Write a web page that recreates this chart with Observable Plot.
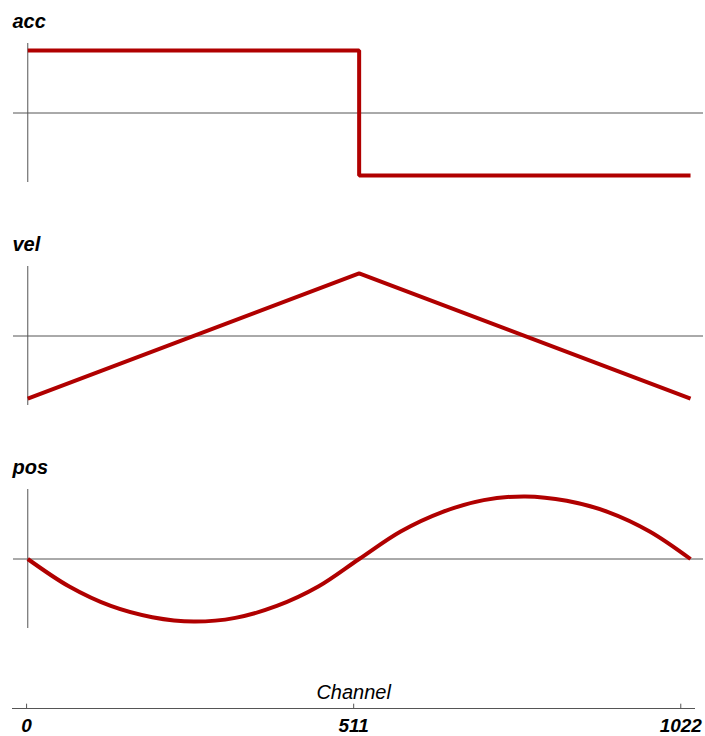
<!DOCTYPE html>
<html>
<head>
<meta charset="utf-8">
<script src="https://cdn.jsdelivr.net/npm/d3@7"></script>
<script src="https://cdn.jsdelivr.net/npm/@observablehq/plot@0.6"></script>
<style>
  html, body { margin: 0; padding: 0; background: #fff; }
  #chart svg { display: block; }
</style>
</head>
<body>
<div id="chart"></div>
<script>
// ---- data ----
const panels = ["acc", "vel", "pos"];
const xTicks = [0, 511, 1022];
const xTickLabels = ["0", "511", "1022"];
const xLabel = "Channel";

// acceleration (step after each channel)
const accChannel = [0, 511, 1022];
const accValue = [1, -1, -1];

// velocity
const velChannel = [0, 511, 1022];
const velValue = [-1, 1, -1];

// position
const posChannel = [0, 64, 128, 192, 256, 320, 384, 448, 511, 575, 639, 703, 767, 831, 895, 959, 1022];
const posValue = [0, -0.44, -0.75, -0.93, -1, -0.94, -0.75, -0.44, 0, 0.44, 0.75, 0.94, 1, 0.93, 0.75, 0.44, 0];

const toRows = (panel, xs, ys) => xs.map((c, i) => ({panel, channel: c, value: ys[i]}));
const accRows = toRows("acc", accChannel, accValue);
const velRows = toRows("vel", velChannel, velValue);
const posRows = toRows("pos", posChannel, posValue);

const RED = "#b00000";
const FONT = "Liberation Sans, Arial, sans-serif";

const main = Plot.plot({
  width: 705,
  height: 660,
  marginLeft: 13,
  marginRight: 2,
  marginTop: 43,
  marginBottom: 32,
  style: {fontFamily: FONT, background: "white"},
  x: {domain: [-22, 1042], axis: null},
  y: {domain: [-1.11, 1.11], axis: null},
  fy: {domain: panels, axis: null, paddingInner: 0.377, paddingOuter: 0},
  marks: [
    Plot.ruleY([0], {stroke: "#555", strokeWidth: 1}),
    Plot.ruleX([0], {stroke: "#555", strokeWidth: 1}),
    Plot.line(accRows, {x: "channel", y: "value", fy: "panel", curve: "step-after",
      stroke: RED, strokeWidth: 4, strokeLinejoin: "miter", strokeLinecap: "butt"}),
    Plot.line(velRows, {x: "channel", y: "value", fy: "panel",
      stroke: RED, strokeWidth: 4, strokeLinejoin: "miter", strokeLinecap: "butt"}),
    Plot.line(posRows, {x: "channel", y: "value", fy: "panel", curve: "catmull-rom",
      stroke: RED, strokeWidth: 4, strokeLinecap: "butt"}),
    Plot.text(panels, {fy: d => d, text: d => d, frameAnchor: "top-left", textAnchor: "start",
      lineAnchor: "bottom", dx: -1, dy: -16, fontSize: 20, fontWeight: "bold", fontStyle: "italic", fill: "black"})
  ]
});

const axis = Plot.plot({
  width: 705,
  height: 76,
  marginLeft: 12,
  marginRight: 10,
  marginTop: 0,
  marginBottom: 28,
  style: {fontFamily: FONT, background: "white"},
  x: {domain: [-22, 1045], axis: null},
  y: {domain: [0, 1], axis: null},
  marks: [
    Plot.ruleY([0], {stroke: "#555", strokeWidth: 1.2}),
    Plot.ruleX(xTicks, {x: d => d, y1: 0, y2: 0.09, stroke: "#555"}),
    Plot.text(xTicks, {x: d => d, y: 0, dy: 17, text: (d, i) => xTickLabels[i],
      fontSize: 19, fontWeight: "bold", fontStyle: "italic", fill: "black"}),
    Plot.text([xLabel], {x: 511, y: 0, dy: -10, lineAnchor: "bottom", text: d => d,
      fontSize: 20, fontStyle: "italic", fill: "black"})
  ]
});

const chart = document.getElementById("chart");
chart.appendChild(main);
chart.appendChild(axis);
</script>
</body>
</html>
